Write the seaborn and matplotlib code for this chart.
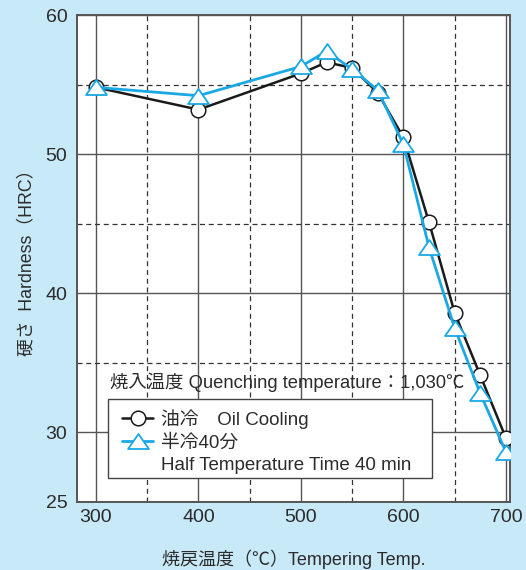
import matplotlib
matplotlib.use("Agg")
import matplotlib.pyplot as plt
from matplotlib.lines import Line2D
from matplotlib.patches import Rectangle
from matplotlib.path import Path
from matplotlib.ticker import FixedLocator
import seaborn as sns
import pandas as pd

# Tempering temperature (°C) and hardness (HRC)
temps = [300, 400, 500, 525, 550, 575, 600, 625, 650, 675, 700]
oil_cooling = [54.8, 53.2, 55.8, 56.6, 56.2, 54.4, 51.2, 45.1, 38.6, 34.1, 29.6]
half_temp_40 = [54.8, 54.2, 56.3, 57.4, 56.1, 54.6, 50.7, 43.3, 37.5, 32.8, 28.6]

x_major = [300, 400, 500, 600, 700]
x_minor = [350, 450, 550, 650]
y_major = [25, 30, 40, 50, 60]
y_minor = [35, 45, 55]

label_oil = "油冷　Oil Cooling"
label_half = "半冷40分"
label_half_en = "Half Temperature Time 40 min"
note = "焼入温度 Quenching temperature：1,030℃"
xlabel = "焼戻温度（℃）Tempering Temp."
ylabel = "硬さ  Hardness（HRC）"

BG = "#C8E9F8"
BLUE = "#1AA8E4"
TXT = "#2b2b2b"

sns.set_theme(style="white")
plt.rcParams["font.family"] = ["Liberation Sans", "Noto Sans CJK JP", "DejaVu Sans"]

df = pd.DataFrame({"temp": temps, "oil": oil_cooling, "half": half_temp_40})

fig = plt.figure(figsize=(5.26, 5.70), dpi=100, facecolor=BG)
ax = fig.add_axes([77 / 526, 68 / 570, 433 / 526, 487 / 570])
ax.set_facecolor("white")

# wide open triangle marker (closed outline)
tri = Path([(0, 0.72), (-1, -0.72), (1, -0.72), (0, 0.72)], closed=True)

sns.lineplot(data=df, x="temp", y="oil", ax=ax, color="#1a1a1a", lw=1.8,
             marker="o", markersize=10.5, markerfacecolor="white",
             markeredgecolor="#1a1a1a", markeredgewidth=1.1, zorder=4)
sns.lineplot(data=df, x="temp", y="half", ax=ax, color=BLUE, lw=2.0,
             marker=tri, markersize=15, markerfacecolor="white",
             markeredgecolor=BLUE, markeredgewidth=1.3, zorder=5)

ax.set_xlim(281.5, 704)
ax.set_ylim(25, 60)
ax.xaxis.set_major_locator(FixedLocator(x_major))
ax.xaxis.set_minor_locator(FixedLocator(x_minor))
ax.yaxis.set_major_locator(FixedLocator(y_major))
ax.yaxis.set_minor_locator(FixedLocator(y_minor))

ax.grid(which="major", color="#555555", lw=1.0, ls="-", zorder=0)
ax.grid(which="minor", color="#333333", lw=0.9, ls=(0, (4, 3)), zorder=0)
ax.set_axisbelow(True)

ax.tick_params(which="both", length=0, labelsize=14, labelcolor=TXT)
ax.tick_params(axis="y", pad=7)
ax.tick_params(axis="x", pad=5)

for s in ax.spines.values():
    s.set_color("#555555")
    s.set_linewidth(1.4)

ax.set_xlabel(xlabel, fontsize=13, color=TXT, labelpad=17)
ax.set_ylabel(ylabel, fontsize=12.8, color=TXT, labelpad=7)

ax.text(0.076, 0.246, note, transform=ax.transAxes, fontsize=13.2,
        color=TXT, va="center", ha="left", zorder=6)

# legend box drawn as its own framed panel
ax.add_patch(Rectangle((0.0716, 0.0493), 0.7483, 0.1622, transform=ax.transAxes,
                       facecolor="white", edgecolor="#444444", lw=1.0, zorder=6.5))

handles = [
    Line2D([], [], color="#1a1a1a", lw=1.8, marker="o", markersize=10.5,
           markerfacecolor="white", markeredgecolor="#1a1a1a", markeredgewidth=1.1),
    Line2D([], [], color=BLUE, lw=2.0, marker=tri, markersize=15,
           markerfacecolor="white", markeredgecolor=BLUE, markeredgewidth=1.3),
    Line2D([], [], color="none", lw=0),
]
leg = ax.legend(handles, [label_oil, label_half, label_half_en],
                loc="upper left", bbox_to_anchor=(0.104, 0.191),
                borderaxespad=0, fontsize=13.5, handlelength=1.65,
                handletextpad=0.45, labelspacing=0.28, borderpad=0,
                frameon=False)
for t in leg.get_texts():
    t.set_color(TXT)
leg.set_zorder(7)

fig.savefig("out.png", dpi=100, facecolor=BG)
